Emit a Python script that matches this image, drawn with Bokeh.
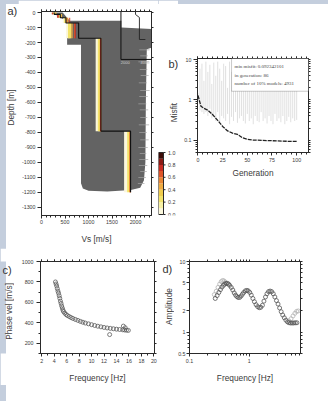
import math
from bokeh.plotting import figure
from bokeh.models import (Range1d, LinearAxis, LogAxis, FixedTicker, CustomJSTickFormatter,
                          BoxAnnotation, Label, Spacer, GlobalInlineStyleSheet)
from bokeh.layouts import row, column
from bokeh.core.properties import value
from bokeh.embed import file_html
from bokeh.resources import INLINE

FONT = "Liberation Sans"
AX = "#2a2a2a"
TXT = "#3a3a3a"

# ---------------- panel a : Vs profiles ----------------
env_vs = [230, 450, 600, 1700, 1700, 2340, 2340, 2240, 2220, 2210, 2180, 2100, 1900, 1400, 1000, 880, 840, 840, 545, 545, 330]
env_depth = [0, 0, -55, -55, -100, -110, -235, -245, -600, -1000, -1120, -1170, -1185, -1195, -1190, -1175, -1140, -215, -215, -60, -20]
streak_depth = [-250, -290, -330, -380, -420, -470, -520, -560, -610, -650, -700, -750, -800, -850, -900, -940, -980, -1020, -1060, -1100, -1140]
streak_left = [2080, 2100, 2060, 2090, 2110, 2070, 2100, 2080, 2060, 2090, 2100, 2070, 2080, 2100, 2060, 2090, 2080, 2070, 2100, 2060, 2050]
streak_right = [2300, 2260, 2290, 2250, 2280, 2240, 2300, 2260, 2230, 2270, 2250, 2290, 2240, 2280, 2260, 2230, 2270, 2250, 2240, 2220, 2190]
layer_top = [0, -12, -35, -70, -172, -792]
layer_bot = [-12, -35, -70, -172, -792, -1200]
model_vs = [
    [260, 380, 500, 570, 1200, 1805],
    [280, 400, 520, 600, 1235, 1860],
    [300, 420, 560, 650, 1250, 1880],
    [240, 360, 540, 700, 1256, 1886],
    [230, 340, 600, 720, 1260, 1890],
]
model_misfit = [0.02, 0.25, 0.45, 0.65, 0.75]
model_width = [4.5, 3.5, 1.2, 1.0, 0.9]
best_vs = [270, 400, 520, 790, 1265, 1895]
inset_box_vs = [1690, 1690, 2340]
inset_box_depth = [7, -313, -313]
inset_vp = [2000, 2000, 2083, 2083, 2210]
inset_depth = [7, -13, -33, -180, -180]

cbar_levels = [0.0, 0.1, 0.2, 0.3, 0.4, 0.5, 0.6, 0.7, 0.8, 0.9, 1.0]
cbar_colors = ["#fbf7dc", "#f7f0a4", "#f3e36a", "#f0cc4c", "#eeab40", "#e88634", "#de5528",
               "#c82c22", "#8c1a14", "#3c0c08"]
cbar_ticks = [0.0, 0.2, 0.4, 0.6, 0.8, 1.0]

# ---------------- panel b : misfit vs generation ----------------
gen = list(range(0, 101, 2))
gen_lo = [0.9, 0.55, 0.5, 0.45, 0.5, 0.4, 0.6, 0.35, 0.45, 0.3, 0.5, 0.28, 0.4, 0.35, 0.3, 0.45, 0.25,
          0.38, 0.3, 0.5, 0.27, 0.35, 0.4, 0.3, 0.26, 0.45, 0.3, 0.35, 0.25, 0.4, 0.3, 0.28, 0.5, 0.3,
          0.35, 0.26, 0.4, 0.3, 0.25, 0.45, 0.3, 0.35, 0.28, 0.4, 0.25, 0.3, 0.38, 0.28, 0.35, 0.3, 0.32]
gen_hi = [1.5, 6, 8, 3, 9, 5, 7.5, 2.5, 8.5, 4, 9, 6, 3, 8, 7, 2, 9, 5, 8, 3.5, 7, 9, 4, 6, 8.5, 2.5,
          9, 5, 7, 3, 8, 6, 9, 4, 7.5, 2, 8, 5, 9, 6, 3, 8.5, 7, 4, 9, 5, 6.5, 8, 3, 7, 9]
best_gen = [0, 3, 6, 10, 15, 20, 25, 30, 35, 40, 45, 50, 55, 60, 70, 80, 90, 100]
best_misfit = [1.3, 0.7, 0.62, 0.56, 0.43, 0.31, 0.22, 0.17, 0.15, 0.14, 0.115, 0.105, 0.101, 0.1,
               0.098, 0.096, 0.094, 0.093]
info_lines = ["min misfit: 0.092342101", "in generation: 86", "number of 10% models: 4931"]

# ---------------- panel c : dispersion ----------------
freq_c = [4.2, 4.3, 4.4, 4.5, 4.6, 4.7, 4.8, 4.9, 5.0, 5.1, 5.2, 5.3, 5.4, 5.5, 5.7, 5.9, 6.1, 6.4,
          6.7, 7.0, 7.4, 7.8, 8.2, 8.6, 9.0, 9.5, 10.0, 10.5, 11.0, 11.5, 12.0, 12.5, 13.0, 13.5,
          14.0, 14.5, 15.0, 15.3, 15.6, 15.9, 12.9, 15.1, 15.4]
vel_c = [800, 780, 760, 735, 710, 690, 665, 640, 612, 590, 565, 545, 525, 510, 495, 482, 472, 462,
         452, 443, 433, 424, 414, 406, 398, 390, 382, 374, 367, 361, 355, 350, 346, 342,
         338, 335, 332, 330, 328, 326, 285, 368, 352]

# ---------------- panel d : H/V amplitude ----------------
freq_d = [0.27, 0.29, 0.31, 0.33, 0.35, 0.37, 0.39, 0.41, 0.43, 0.45, 0.47, 0.50, 0.53, 0.56, 0.59,
          0.62, 0.65, 0.69, 0.73, 0.77, 0.81, 0.86, 0.91, 0.96, 1.02, 1.08, 1.15, 1.22, 1.30, 1.38,
          1.47, 1.56, 1.66, 1.76, 1.87, 1.98, 2.10, 2.23, 2.37, 2.52, 2.68, 2.85, 3.03, 3.22, 3.42,
          3.63, 3.86, 4.10, 4.36, 4.63, 4.92, 5.23, 5.55, 5.90, 6.27]
amp_d = [3.0, 3.3, 3.65, 4.0, 4.35, 4.6, 4.8, 4.9, 4.9, 4.8, 4.6, 4.3, 3.95, 3.6, 3.35,
         3.2, 3.1, 3.1, 3.25, 3.45, 3.65, 3.85, 3.9, 3.85, 3.65, 3.35, 3.0, 2.7, 2.45, 2.3,
         2.22, 2.25, 2.4, 2.75, 3.15, 3.5, 3.75, 3.82, 3.75, 3.5, 3.15, 2.8, 2.5, 2.2, 1.95,
         1.75, 1.6, 1.48, 1.4, 1.36, 1.35, 1.35, 1.35, 1.36, 1.36]
freq_d2 = [0.26, 0.28, 0.30, 0.32, 0.34, 0.36, 0.38, 0.40, 4.6, 5.0, 5.4, 5.8, 6.2, 6.6]
amp_d2 = [3.4, 3.8, 4.3, 4.8, 5.2, 5.4, 5.3, 5.1, 1.45, 1.55, 1.7, 1.85, 1.97, 2.0]


def make_fig(width, height, left, top, fw, fh, xr, yr, xt="linear", yt="linear", **kw):
    p = figure(width=width, height=height, x_range=xr, y_range=yr, x_axis_type=xt, y_axis_type=yt,
               toolbar_location=None, output_backend="svg",
               min_border_left=left, min_border_top=top,
               min_border_right=width - left - fw, min_border_bottom=height - top - fh, **kw)
    p.border_fill_color = "white"
    p.background_fill_color = None
    p.outline_line_color = AX
    p.outline_line_width = 1
    p.grid.visible = False
    return p


def gutter(width, height, top, fh):
    """Blank strip whose whole width is frame; y data = local pixel row."""
    p = make_fig(width, height, 0, top, width, fh, Range1d(0, width), Range1d(top + fh, top),
                 xt=None, yt=None)
    p.outline_line_color = None
    return p


def put(p, x, y, text, size="11px", color="#333333", angle=0.0, align="left", font=FONT):
    p.add_layout(Label(x=x, y=y, text=text, text_font=font, text_font_size=size,
                       text_color=color, text_baseline="middle", text_align=align, angle=angle))


def style(ax, ticks, minor, show=True, fmt="return String(tick)", tick_out=3, standoff=2,
          label=None, label_standoff=4):
    ax.ticker = FixedTicker(ticks=ticks, minor_ticks=minor)
    ax.formatter = CustomJSTickFormatter(code=fmt if show else "return ''")
    ax.axis_line_color = AX
    ax.major_tick_line_color = AX
    ax.minor_tick_line_color = AX
    ax.major_tick_in = 0
    ax.major_tick_out = tick_out
    ax.minor_tick_in = 0
    ax.minor_tick_out = 2
    ax.major_label_text_font = FONT
    ax.major_label_text_font_size = "5.3px"
    ax.major_label_text_color = TXT
    ax.major_label_standoff = standoff
    if label:
        ax.axis_label = label
        ax.axis_label_text_font = FONT
        ax.axis_label_text_font_size = "8.3px"
        ax.axis_label_text_font_style = "normal"
        ax.axis_label_text_color = TXT
        ax.axis_label_standoff = label_standoff


def frame_axes(p, xt, xm, yt, ym, xlog=False, ylog=False):
    top = LogAxis() if xlog else LinearAxis()
    right = LogAxis() if ylog else LinearAxis()
    style(top, xt, xm, show=False, tick_out=2)
    style(right, yt, ym, show=False, tick_out=2)
    top.major_label_standoff = 0
    right.major_label_standoff = 0
    p.add_layout(top, "above")
    p.add_layout(right, "right")


# ---------- gutter left of panel a ----------
ga = gutter(18, 248, 0, 248)
put(ga, 7, 10.5, "a)")
put(ga, 10, 107, "Depth [m]", size="8.3px", color=TXT, angle=math.pi / 2, align="center")

# ---------- panel a ----------
fa = make_fig(140, 248, 21, 11, 112, 204, Range1d(0, 2340), Range1d(-1355, 7))
fa.patch(env_vs, env_depth, fill_color="#636363", line_color=None)
fa.hbar(y=streak_depth, left=streak_left, right=streak_right, height=5,
        fill_color="#a4a4a4", line_color=None, fill_alpha=0.9)

# colour-coded models: vertical (layer) segments only
for vs, mf, lw in zip(model_vs, model_misfit, model_width):
    col = cbar_colors[min(int(mf * 10), 9)]
    fa.segment(x0=vs, y0=layer_top, x1=vs, y1=layer_bot, line_color=col, line_width=lw)


def profile(vs):
    xs, ys = [], []
    for v, t, b in zip(vs, layer_top, layer_bot):
        xs += [v, v]
        ys += [t, b]
    return xs, ys


bx, by = profile(best_vs)
fa.line(bx, by, line_color="#111111", line_width=1.1)
fa.line(inset_box_vs, inset_box_depth, line_color="#111111", line_width=1)
fa.line(inset_vp, inset_depth, line_color="#222222", line_width=0.9)
for t, vx in [("2000", 1780), ("4000", 2200)]:
    put(fa, vx, -333, t, size="4px", color="#cfcfcf", align="center")
style(fa.xaxis[0], [0, 500, 1000, 1500, 2000], list(range(0, 2400, 100)), tick_out=3, standoff=1,
      label="Vs [m/s]", label_standoff=7)
style(fa.yaxis[0], list(range(0, -1400, -100)), [], tick_out=4, standoff=2)
frame_axes(fa, [0, 500, 1000, 1500, 2000], list(range(0, 2400, 100)), list(range(0, -1400, -100)), [])

# ---------- colour bar strip (with "b)" and the Misfit title) ----------
fcb = make_fig(20, 248, 0, 11, 20, 204, Range1d(0, 20), Range1d(-1 / 62, 203 / 62), xt=None, yt=None)
fcb.outline_line_color = None
fcb.quad(left=0, right=5, bottom=cbar_levels[:-1], top=cbar_levels[1:], fill_color=cbar_colors,
         line_color=None)
fcb.quad(left=0, right=5, bottom=cbar_levels[0], top=cbar_levels[-1], fill_color=None,
         line_color=AX, line_width=1)
fcb.segment(x0=5, x1=7, y0=cbar_ticks, y1=cbar_ticks, line_color=AX, line_width=1)
fcb.text(x=9.5, y=cbar_ticks, text=["%.1f" % t for t in cbar_ticks], text_font=value(FONT),
         text_font_size="5.3px", text_color=TXT, text_baseline="middle", text_align="left")
put(fcb, 10, (214 - 63) / 62, "b)")
put(fcb, 15.5, (214 - 112) / 62, "Misfit", size="8.3px", color=TXT, angle=math.pi / 2,
    align="center")

# ---------- panel b ----------
fb = make_fig(134, 138, 19, 11, 111, 94, Range1d(-0.5, 112), Range1d(0.0494, 10.77), yt="log")
fb.segment(x0=gen, y0=gen_lo, x1=gen, y1=gen_hi, line_color="#d3d3d3", line_width=0.7)
fb.line(best_gen, best_misfit, line_color="#222222", line_width=1.3, line_dash="4 1")
fb.add_layout(BoxAnnotation(left=34, right=112, bottom=1.65, top=10.77, fill_color="white",
                            fill_alpha=1, line_color="#222222", line_width=0.8))
for txt, ly in zip(info_lines, [6.9, 4.1, 2.6]):
    put(fb, 37, ly, txt, size="5px", color="#444444", font="Liberation Serif")
bminor_y = [0.05, 0.06, 0.07, 0.08, 0.09, 0.2, 0.3, 0.4, 0.5, 0.6, 0.7, 0.8, 0.9,
            2, 3, 4, 5, 6, 7, 8, 9]
style(fb.xaxis[0], [0, 25, 50, 75, 100], list(range(0, 111, 5)), tick_out=3, standoff=2,
      label="Generation", label_standoff=3)
style(fb.yaxis[0], [0.1, 1, 10], bminor_y, tick_out=4, standoff=2)
frame_axes(fb, [0, 25, 50, 75, 100], list(range(0, 111, 5)), [0.1, 1, 10], bminor_y, ylog=True)

# ---------- bottom row ----------
gc = gutter(14, 137, 13, 94)
put(gc, 2, 22, "c)")
put(gc, 8.7, 64, "Phase vel [m/s]", size="8.3px", color=TXT, angle=math.pi / 2, align="center")

fc = make_fig(146, 137, 26, 13, 114, 94, Range1d(1.8, 20.1), Range1d(100, 1000))
fc.scatter(freq_c, vel_c, marker="circle", size=4, fill_color=None, line_color="#5c5c5c",
           line_width=0.8)
style(fc.xaxis[0], list(range(2, 21, 2)), list(range(2, 21, 1)), tick_out=3, standoff=2,
      label="Frequency [Hz]", label_standoff=7)
style(fc.yaxis[0], [200, 400, 600, 800, 1000], [100, 300, 500, 700, 900], tick_out=4, standoff=3)
frame_axes(fc, list(range(2, 21, 2)), list(range(2, 21, 1)), [200, 400, 600, 800, 1000],
           [100, 300, 500, 700, 900])

gd = gutter(14, 137, 13, 94)
put(gd, 2, 20.5, "d)")
put(gd, 8, 59, "Amplitude", size="8.3px", color=TXT, angle=math.pi / 2, align="center")

fd = make_fig(138, 137, 15, 13, 111, 94, Range1d(0.1, 7.2), Range1d(0.5, 10), xt="log", yt="log")
fd.scatter(freq_d2, amp_d2, marker="circle", size=4, fill_color=None, line_color="#b4b4b4",
           line_width=0.8)
fd.scatter(freq_d, amp_d, marker="circle", size=4, fill_color=None, line_color="#555555",
           line_width=0.8)
dminor_x = [0.2, 0.3, 0.4, 0.5, 0.6, 0.7, 0.8, 0.9, 2, 3, 4, 5, 6, 7]
dminor_y = [0.6, 0.7, 0.8, 0.9, 3, 4, 6, 7, 8, 9]
style(fd.xaxis[0], [0.1, 1], dminor_x, tick_out=3, standoff=2, label="Frequency [Hz]",
      label_standoff=7)
style(fd.yaxis[0], [0.5, 1, 2, 5, 10], dminor_y, tick_out=3, standoff=1)
frame_axes(fd, [0.1, 1], dminor_x, [0.5, 1, 2, 5, 10], dminor_y, xlog=True, ylog=True)

top_row = row(column(ga), fa, fcb,
              column(Spacer(width=134, height=47), fb, Spacer(width=134, height=63), spacing=0),
              spacing=0)
bottom_row = row(gc, fc, gd, fd, spacing=0)
layout = column(top_row, bottom_row, spacing=0)
layout.stylesheets = [GlobalInlineStyleSheet(css=(
    "html { min-height: 100%; background: #ffffff; } "
    "body { background-color: #ffffff; "
    "background-image: linear-gradient(to right, #c4cedd 6px, rgba(255,255,255,0) 6px), "
    "linear-gradient(to bottom, #c4cedd 4px, rgba(255,255,255,0) 4px); "
    "background-repeat: no-repeat, no-repeat; background-attachment: fixed, fixed; "
    "background-size: 100vw 100vh, 100vw 100vh; }"))]

open("out.html", "w").write(file_html(layout, INLINE))
